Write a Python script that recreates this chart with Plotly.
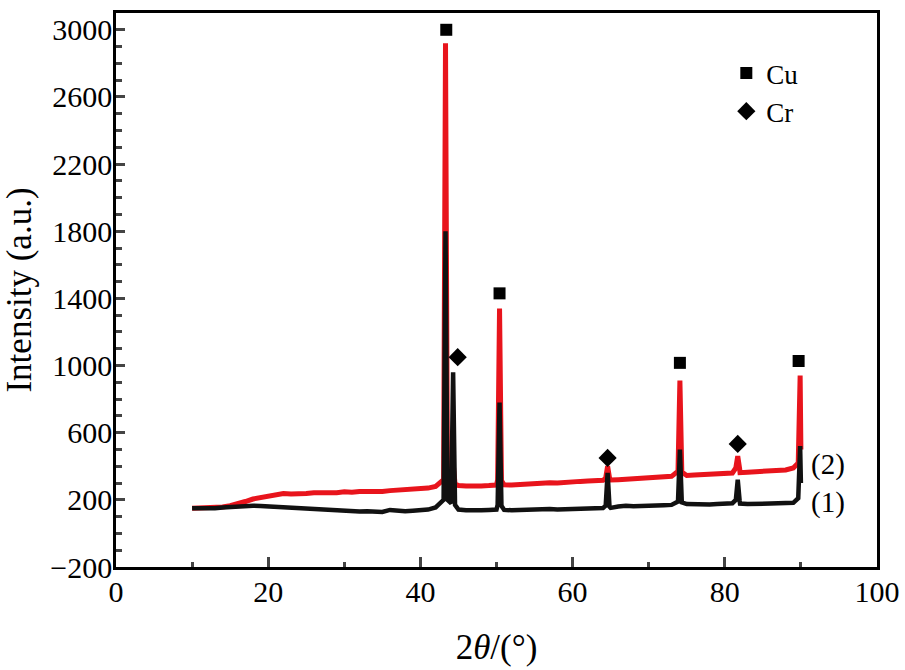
import plotly.graph_objects as go

# XRD patterns, 2theta in degrees
two_theta = [10, 11, 12, 13, 14, 15, 16, 17, 18, 19, 20, 21, 22, 23, 24, 25, 26, 27, 28, 29,
             30, 31, 32, 33, 34, 35, 36, 37, 38, 39, 40, 41, 42,
             43.05, 43.3, 43.55, 44.05, 44.3, 44.55,
             45, 46, 47, 48, 49, 50,
             50.15, 50.4, 50.65,
             51, 52, 53, 54, 55, 56, 57, 58, 59, 60, 61, 62, 63, 64,
             64.35, 64.6, 64.85,
             65, 66, 67, 68, 69, 70, 71, 72, 73,
             73.85, 74.1, 74.35,
             75, 76, 77, 78, 79, 80, 81,
             81.45, 81.7, 81.95,
             82, 83, 84, 85, 86, 87, 88, 89,
             89.65, 89.9, 90.0]

# curve (1), black
intensity_1 = [150, 148, 152, 150, 155, 158, 160, 162, 165, 163, 160, 158, 155, 152, 150, 148, 145, 143, 140, 138,
               135, 133, 130, 132, 130, 128, 140, 135, 132, 135, 138, 142, 155,
               200, 1800, 200, 180, 960, 170,
               142, 138, 135, 138, 140, 142,
               170, 780, 165,
               140, 138, 140, 142, 140, 143, 145, 143, 145, 148, 150, 148, 150, 152,
               165, 360, 160,
               152, 160, 165, 162, 165, 168, 165, 168, 170,
               190, 500, 185,
               175, 172, 175, 172, 175, 178, 180,
               200, 320, 195,
               178, 175, 178, 175, 178, 180, 178, 182,
               210, 520, 300]

# curve (2), red
intensity_2 = [150, 152, 155, 150, 158, 165, 175, 190, 205, 215, 225, 232, 238, 235, 240, 238, 242, 240, 245, 243,
               248, 245, 250, 248, 252, 250, 255, 258, 255, 262, 265, 270, 280,
               320, 2920, 330, 300, 420, 295,
               285, 282, 280, 283, 285, 288,
               320, 1340, 315,
               290, 288, 292, 295, 298, 300, 302, 300, 305, 308, 310, 312, 315, 316,
               330, 400, 330,
               318, 320, 322, 325, 328, 330, 332, 335, 340,
               370, 910, 365,
               345, 348, 350, 352, 355, 358, 360,
               390, 460, 385,
               362, 365, 368, 370, 372, 375, 378, 390,
               420, 940, 500]

# phase markers
cu_x = [43.4, 50.4, 74.1, 89.7]
cu_y = [3000, 1430, 1016, 1027]
cr_x = [44.9, 64.6, 81.7]
cr_y = [1050, 450, 533]

font_family = "Liberation Serif, Times New Roman, serif"

fig = go.Figure()
fig.add_trace(go.Scatter(x=two_theta, y=intensity_2, mode="lines", name="(2)",
                         line=dict(color="#e8141c", width=5), showlegend=False))
fig.add_trace(go.Scatter(x=two_theta, y=intensity_1, mode="lines", name="(1)",
                         line=dict(color="#111111", width=4.5), showlegend=False))
fig.add_trace(go.Scatter(x=cu_x, y=cu_y, mode="markers", name="Cu",
                         marker=dict(symbol="square", size=12, color="black")))
fig.add_trace(go.Scatter(x=cr_x, y=cr_y, mode="markers", name="Cr",
                         marker=dict(symbol="diamond", size=14, color="black")))

fig.add_annotation(x=91, y=408, text="(2)", showarrow=False, xanchor="left",
                   font=dict(size=29, color="black", family=font_family))
fig.add_annotation(x=91, y=187, text="(1)", showarrow=False, xanchor="left",
                   font=dict(size=29, color="black", family=font_family))

fig.update_layout(
    width=905, height=670,
    margin=dict(l=116, r=28, t=13, b=103, autoexpand=False),
    plot_bgcolor="white", paper_bgcolor="white",
    font=dict(family=font_family, size=29, color="black"),
    legend=dict(x=0.802, y=0.935, xanchor="left", yanchor="top",
                bgcolor="rgba(0,0,0,0)", font=dict(size=27), itemwidth=30),
)
fig.update_xaxes(
    range=[0, 100], dtick=20, ticks="inside", ticklen=10, tickwidth=2.5,
    minor=dict(dtick=10, ticks="inside", ticklen=5, tickwidth=2.5),
    showline=True, linewidth=2.5, linecolor="black", mirror=True,
    showgrid=False, zeroline=False, ticklabelstandoff=-4, ticklabeloverflow="allow",
    tickfont=dict(size=30), automargin=False,
    title=dict(text="2<i>θ</i>/(°)", standoff=28),
)
fig.update_yaxes(
    range=[-200, 3100], tickvals=[-200, 200, 600, 1000, 1400, 1800, 2200, 2600, 3000],
    ticks="inside", ticklen=9, tickwidth=2.5,
    minor=dict(dtick=100, tick0=-200, ticks="inside", ticklen=6, tickwidth=2.5),
    showline=True, linewidth=2.5, linecolor="black", mirror=True,
    showgrid=False, zeroline=False, ticklabelstandoff=-5,
    tickfont=dict(size=30), automargin=False,
    title=dict(text="Intensity (a.u.)", standoff=16),
)

# drop the default page margin so the figure fills the window exactly
fig.write_html("out.html", config={"displayModeBar": False},
               post_script="document.body.style.margin = '0';")
